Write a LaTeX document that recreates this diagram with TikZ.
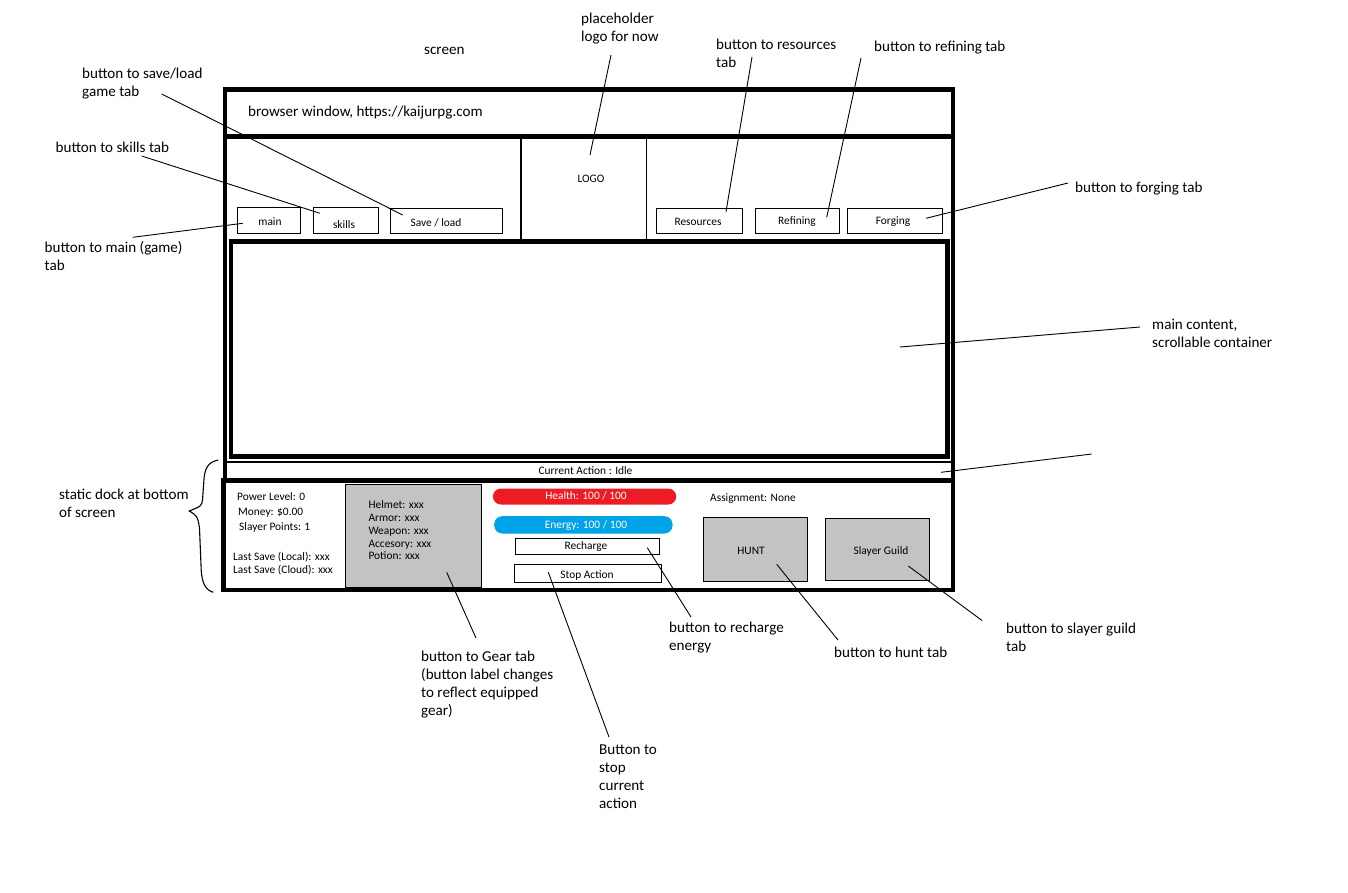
\documentclass[tikz,border=0pt]{standalone}
\usepackage{fontspec}
\setmainfont{Carlito}
% left-aligned block of lines whose baseline is the first line's baseline
\newcommand{\linesblock}[1]{\vtop{\baselineskip=18pt\lineskiplimit=-20pt\halign{##\hfil\cr#1\crcr}}}
\begin{document}
\begin{tikzpicture}[x=1pt,y=-1pt,
  note/.style={font=\fontsize{15.1}{18}\selectfont, inner sep=0, anchor=base west},
  uitext/.style={font=\fontsize{11.4}{13}\selectfont, inner sep=0, anchor=base},
  uileft/.style={uitext, anchor=base west},
  frameline/.style={line width=4.6},
  hairline/.style={line width=1.1},
  lead/.style={line width=0.9},
  uibox/.style={draw, line width=1.0, inner sep=0, anchor=north west},
  graybox/.style={uibox, fill=panelgray},
  pill/.style={inner sep=0, anchor=north west, rounded corners=8},
]
\definecolor{panelgray}{HTML}{C3C3C3}
\definecolor{barred}{HTML}{ED1C24}
\definecolor{barblue}{HTML}{00A2E8}
\useasboundingbox (0,0) rectangle (1348,892);

% ---------- browser window frame ----------
\draw[frameline] (225,480) -- (225,89.5) -- (953,89.5) -- (953,480);
\draw[frameline] (225,136.5) -- (953,136.5);
\draw[frameline] (223.5,480.5) rectangle (953,590);
\draw[frameline] (231,241.5) rectangle (947.5,456.5);
\draw[hairline] (227,462) -- (951,462);
\draw[hairline] (521,138.5) -- (521,239.5);
\draw[hairline] (646.3,138.5) -- (646.3,239.5);

\node[note] (url) at (248,116.5) {browser window, https://kaijurpg.com};
\node[uitext] (logo) at (591,182.5) {LOGO};

% ---------- tab buttons ----------
\node[uibox, minimum width=62.4, minimum height=26] (bmain) at (237.3,207.3) {};
\node[uibox, minimum width=65, minimum height=26] (bskills) at (313.3,207.3) {};
\node[uibox, minimum width=111.4, minimum height=25] (bsave) at (390.3,208.3) {};
\node[uibox, minimum width=86.3, minimum height=25] (bres) at (656,208.3) {};
\node[uibox, minimum width=84.3, minimum height=25] (bref) at (755,208.3) {};
\node[uibox, minimum width=94.4, minimum height=25] (bforg) at (847.3,208.3) {};
\node[uitext] (tmain) at (270,225.2) {main};
\node[uitext] (tskills) at (344,228) {skills};
\node[uitext] (tsave) at (436,226) {Save / load};
\node[uitext] (tres) at (698,225) {Resources};
\node[uitext] (tref) at (797,224) {Refining};
\node[uitext] (tforg) at (893,224) {Forging};

% ---------- status strip ----------
\node[uitext] (curact) at (585.5,474) {Current Action : Idle};

% ---------- dock ----------
\node[uileft] (power) at (237,500.2) {Power Level: 0};
\node[uileft] (money) at (238,515.2) {Money: \$0.00};
\node[uileft] (slayerpts) at (239,530.8) {Slayer Points: 1};
\node[uileft] (savelocal) at (233,560.2) {Last Save (Local): xxx};
\node[uileft] (savecloud) at (233,573.2) {Last Save (Cloud): xxx};

\node[graybox, minimum width=135.4, minimum height=102.4] (gear) at (345.3,484.3) {};
\node[uileft] (helmet) at (368.3,508.5) {Helmet: xxx};
\node[uileft] (armor) at (368.3,521.2) {Armor: xxx};
\node[uileft] (weapon) at (368.3,534.2) {Weapon: xxx};
\node[uileft] (accesory) at (368.3,547.5) {Accesory: xxx};
\node[uileft] (potion) at (368.3,559.8) {Potion: xxx};

\node[pill, fill=barred, minimum width=183.3, minimum height=16] (health) at (492.7,488.3) {};
\node[pill, fill=barblue, minimum width=178.3, minimum height=17.3] (energy) at (494,516) {};
\node[uitext, text=white] (thealth) at (586,499.5) {Health: 100 / 100};
\node[uitext, text=white] (tenergy) at (586,528.5) {Energy: 100 / 100};

\node[uibox, minimum width=144, minimum height=15.7] (recharge) at (515.3,538) {};
\node[uibox, minimum width=146.7, minimum height=17.7] (stop) at (514,564) {};
\node[uitext] (trecharge) at (586,549.5) {Recharge};
\node[uitext] (tstop) at (587,578) {Stop Action};

\node[uileft] (assign) at (710,501.8) {Assignment: None};
\node[graybox, minimum width=103.4, minimum height=63.4] (hunt) at (703.3,517.3) {};
\node[graybox, minimum width=104, minimum height=61.4] (guild) at (825.3,518.3) {};
\node[uitext] (thunt) at (751,554) {HUNT};
\node[uitext] (tguild) at (881,554) {Slayer Guild};

% ---------- annotations ----------
\node[note] (nscreen) at (424,54.5) {screen};
\node[note] (nlogo) at (581,23.5) {\linesblock{placeholder\cr logo for now}};
\node[note] (nres) at (716,49.5) {\linesblock{button to resources\cr tab}};
\node[note] (nref) at (874,51.5) {button to refining tab};
\node[note] (nsave) at (82,78.5) {\linesblock{button to save/load\cr game tab}};
\node[note] (nskills) at (55.5,152.5) {button to skills tab};
\node[note] (nmain) at (44.5,252.2) {\linesblock{button to main (game)\cr tab}};
\node[note] (nforg) at (1075,192.5) {button to forging tab};
\node[note] (ncontent) at (1152,329.5) {\linesblock{main content,\cr scrollable container}};
\node[note] (ndock) at (59,499.5) {\linesblock{static dock at bottom\cr of screen}};
\node[note] (ngear) at (421,661.5) {\linesblock{button to Gear tab\cr (button label changes\cr to reflect equipped\cr gear)}};
\node[note] (nrecharge) at (669,632.5) {\linesblock{button to recharge\cr energy}};
\node[note] (nhunt) at (834,657.5) {button to hunt tab};
\node[note] (nguild) at (1006,633.5) {\linesblock{button to slayer guild\cr tab}};
\node[note] (nstop) at (599,754.5) {\linesblock{Button to\cr stop\cr current\cr action}};

% ---------- leader line end points ----------
\coordinate (saveA) at (161.7,94);    \coordinate (saveB) at (402.7,215);
\coordinate (skillsA) at (141.7,156); \coordinate (skillsB) at (320,213.3);
\coordinate (mainA) at (132.7,237.3); \coordinate (mainB) at (242.7,223.3);
\coordinate (logoA) at (611,55);      \coordinate (logoB) at (590,155);
\coordinate (resA) at (752,57);       \coordinate (resB) at (726,211.7);
\coordinate (refA) at (861,58);       \coordinate (refB) at (826.7,217.3);
\coordinate (forgA) at (1068,183);    \coordinate (forgB) at (926,218.3);
\coordinate (contA) at (1140,327);    \coordinate (contB) at (900,347);
\coordinate (stripA) at (1091.7,454); \coordinate (stripB) at (941,472.3);
\coordinate (gearA) at (476,638);     \coordinate (gearB) at (446.7,572.3);
\coordinate (stopA) at (609,737);     \coordinate (stopB) at (548.3,572.3);
\coordinate (rechA) at (691,617);     \coordinate (rechB) at (647.3,547.7);
\coordinate (huntA) at (838,640);     \coordinate (huntB) at (776.7,564.3);
\coordinate (guildA) at (982,620.5);  \coordinate (guildB) at (908.3,566);

\foreach \p in {save,skills,main,logo,res,ref,forg,cont,strip,gear,stop,rech,hunt,guild}
  \draw[lead] (\p A) -- (\p B);

% ---------- brace beside the dock ----------
\draw[hairline] (218.3,460) .. controls (208,462) and (204.5,468) .. (203.8,482)
  -- (202.5,500) .. controls (201.5,506) .. (189.3,511)
  .. controls (197.5,516) .. (199.5,528) -- (201.2,570)
  .. controls (202,584) and (206,590) .. (213.3,592.3);
\end{tikzpicture}
\end{document}
